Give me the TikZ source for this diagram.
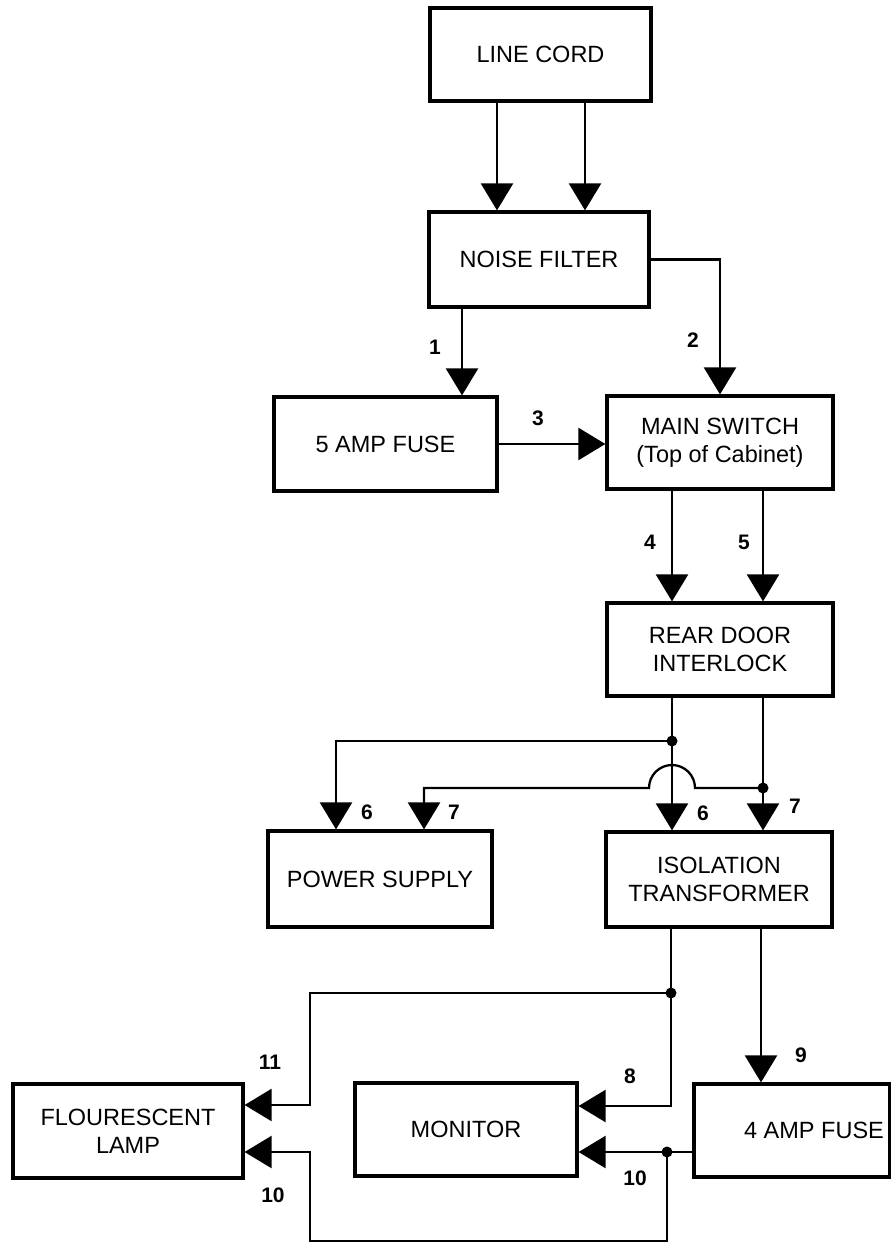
\documentclass[tikz,border=0pt]{standalone}
\usepackage{fontspec}
\setmainfont{Liberation Sans}
\usetikzlibrary{arrows.meta,calc}
\begin{document}
\begin{tikzpicture}[x=1pt,y=-1pt,
  box/.style={draw, line width=3.2pt, rectangle, inner sep=2pt, align=center,
    font=\fontsize{23.5}{28}\selectfont},
  wire/.style={line width=2.3pt, line join=miter},
  arr/.style={wire, -{Triangle[length=27pt,width=32pt]}},
  num/.style={font=\fontsize{21}{24}\selectfont\bfseries, inner sep=0pt},
  jdot/.style={fill=black}]
\useasboundingbox (0,0) rectangle (891,1245);
\fill[white] (0,0) rectangle (891,1245);
\clip (0,0) rectangle (891,1245);

% boxes
\node[box, minimum width=221pt, minimum height=93pt] (lc) at (540.5,54.5) {LINE CORD};
\node[box, minimum width=220pt, minimum height=95pt] (nf) at (539,259.5) {NOISE FILTER};
\node[box, minimum width=223pt, minimum height=94pt] (f5) at (385.5,444) {5 AMP FUSE};
\node[box, minimum width=226pt, minimum height=93pt] (ms) at (720,442.5) {MAIN SWITCH\\(Top of Cabinet)};
\node[box, minimum width=226pt, minimum height=93pt] (rdi) at (720,649.5) {REAR DOOR\\INTERLOCK};
\node[box, minimum width=224pt, minimum height=96pt] (ps) at (380,879) {POWER SUPPLY};
\node[box, minimum width=226pt, minimum height=95pt] (it) at (719,879.5) {ISOLATION\\TRANSFORMER};
\node[box, minimum width=230pt, minimum height=94pt] (fl) at (128,1131) {FLOURESCENT\\LAMP};
\node[box, minimum width=222pt, minimum height=93pt] (mon) at (466,1129.5) {MONITOR};
\node[box, minimum width=196pt, minimum height=93pt] (f4) at (792,1130.5) {\hspace*{44pt}4 AMP FUSE};

% helper coordinates
\coordinate (xa) at (497,0);
\coordinate (xb) at (585,0);
\coordinate (x1) at (462,0);
\coordinate (j1) at (672,741);
\coordinate (j2) at (763,788);
\coordinate (x6) at (336,0);
\coordinate (x7) at (424,0);
\coordinate (j3) at (671,993);
\coordinate (x9) at (761,0);
\coordinate (x11) at (310,0);
\coordinate (y8) at (0,1106);
\coordinate (y11) at (0,1105);
\coordinate (j4) at (667,1152);
\coordinate (ybot) at (0,1241);

% connectors
\draw[arr] (lc.south -| xa) -- (nf.north -| xa);
\draw[arr] (lc.south -| xb) -- (nf.north -| xb);
\draw[arr] (nf.south -| x1) -- (f5.north -| x1);
\draw[arr] (nf.east) -| (ms.north);
\draw[arr] (f5.east) -- (ms.west |- f5.east);
\draw[arr] (ms.south -| j1) -- (rdi.north -| j1);
\draw[arr] (ms.south -| j2) -- (rdi.north -| j2);

\draw[wire] (rdi.south -| j1) -- (j1);
\draw[arr] (j1) -- (it.north -| j1);
\draw[arr] (j1) -| (ps.north -| x6);
\draw[wire] (rdi.south -| j2) -- (j2);
\draw[arr] (j2) -- (it.north -| j2);
\draw[arr] (j2) -- ($(j1|-j2)+(23,0)$) arc[start angle=0,end angle=180,radius=23pt]
  -- (x7 |- j2) -- (ps.north -| x7);

\draw[wire] (it.south -| j3) -- (j3);
\draw[arr] (j3) |- (mon.east |- y8);
\draw[arr] (j3) -- (x11 |- j3) |- (fl.east |- y11);
\draw[arr] (it.south -| x9) -- (f4.north -| x9);
\draw[wire] (f4.west |- j4) -- (j4);
\draw[arr] (j4) -- (mon.east |- j4);
\draw[arr] (j4) -- (j4 |- ybot) -| (x11 |- j4) -- (fl.east |- j4);

\fill[jdot] (j1) circle[radius=5.5pt];
\fill[jdot] (j2) circle[radius=5.5pt];
\fill[jdot] (j3) circle[radius=5.5pt];
\fill[jdot] (j4) circle[radius=5.5pt];

% labels
\node[num] (n1) at (435,347) {1};
\node[num] (n2) at (693,340) {2};
\node[num] (n3) at (538,418) {3};
\node[num] (n4) at (650,542) {4};
\node[num] (n5) at (744,542) {5};
\node[num] (n6a) at (367,812) {6};
\node[num] (n7a) at (454,812) {7};
\node[num] (n6b) at (703,813) {6};
\node[num] (n7b) at (795,806) {7};
\node[num] (n8) at (630,1076) {8};
\node[num] (n9) at (801,1055) {9};
\node[num] (n10a) at (635,1178) {10};
\node[num] (n11) at (270,1062) {11};
\node[num] (n10b) at (273,1195) {10};
\end{tikzpicture}
\end{document}
